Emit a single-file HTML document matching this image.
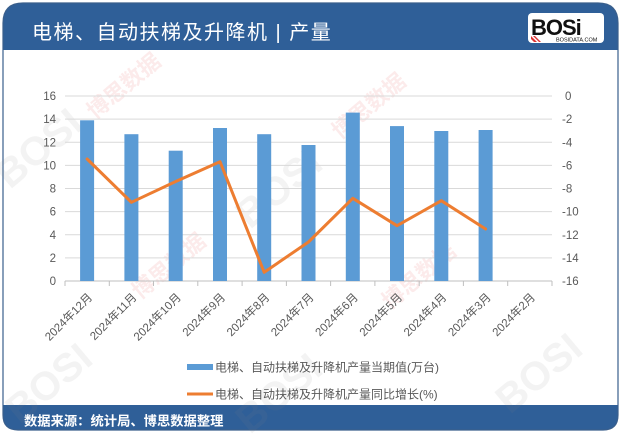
<!DOCTYPE html>
<html><head><meta charset="utf-8">
<style>
html,body{margin:0;padding:0;background:#fff;}
body{width:623px;height:434px;overflow:hidden;position:relative;font-family:"Liberation Sans","Noto Sans CJK SC",sans-serif;}
svg{position:absolute;left:0;top:0;}
</style></head>
<body>
<svg width="623" height="434" viewBox="0 0 623 434" xmlns="http://www.w3.org/2000/svg">
  <defs>
    <clipPath id="card"><path d="M3,23 Q3,3 23,3 L598,3 Q618,3 618,23 L618,415 Q618,430 603,430 L18,430 Q3,430 3,415 Z"/></clipPath>
  </defs>
  <g clip-path="url(#card)">
    <rect x="0" y="0" width="623" height="434" fill="#fff"/>
    <rect x="0" y="0" width="623" height="50" fill="#2f5f98"/>
    <rect x="0" y="405" width="623" height="30" fill="#2f5f98"/>
  </g>
  <path d="M3,23 Q3,3 23,3 L598,3 Q618,3 618,23 L618,415 Q618,430 603,430 L18,430 Q3,430 3,415 Z" fill="none" stroke="#3a5f8c" stroke-width="1.2"/>

  <!-- watermarks (faint) -->
  <g font-family="Liberation Sans, Noto Sans CJK SC, sans-serif" opacity="0.10">
    <text x="0" y="0" transform="translate(10,190) rotate(-40)" font-size="40" font-weight="bold" fill="#888">BOSI</text>
    <text x="0" y="0" transform="translate(250,230) rotate(-40)" font-size="40" font-weight="bold" fill="#888">BOSI</text>
    <text x="0" y="0" transform="translate(20,425) rotate(-40)" font-size="40" font-weight="bold" fill="#888">BOSI</text>
    <text x="0" y="0" transform="translate(250,435) rotate(-40)" font-size="40" font-weight="bold" fill="#888">BOSI</text>
    <text x="0" y="0" transform="translate(510,415) rotate(-40)" font-size="40" font-weight="bold" fill="#888">BOSI</text>
    <text x="0" y="0" transform="translate(95,120) rotate(-40)" font-size="22" font-weight="bold" fill="#d33">博思数据</text>
    <text x="0" y="0" transform="translate(340,140) rotate(-40)" font-size="22" font-weight="bold" fill="#d33">博思数据</text>
    <text x="0" y="0" transform="translate(140,300) rotate(-40)" font-size="22" font-weight="bold" fill="#d33">博思数据</text>
    <text x="0" y="0" transform="translate(390,310) rotate(-40)" font-size="22" font-weight="bold" fill="#d33">博思数据</text>
  </g>

  <!-- header title -->
  <text x="32" y="39" font-size="20" fill="#fff" letter-spacing="1.5" font-family="Liberation Sans, Noto Sans CJK SC, sans-serif">电梯、自动扶梯及升降机 | 产量</text>

  <!-- logo -->
  <rect x="528" y="13" width="76" height="30" rx="4" fill="#fff"/>
  <text x="531" y="35" font-size="22" font-weight="bold" fill="#111" font-family="Liberation Sans, sans-serif" letter-spacing="-1">BOSi</text>
  <text x="556" y="41.5" font-size="5.5" fill="#111" font-family="Liberation Sans, sans-serif">BOSIDATA.COM</text>
  <path d="M531,36 L537,42 L534,42 L531,39 Z" fill="#d33"/>
  <path d="M535,36 L541,42 L539,42 L533,36 Z" fill="#d33"/>

  <!-- gridlines -->
  <g stroke="#d9d9d9" stroke-width="1">
    <line x1="65" y1="96" x2="552" y2="96"/>
    <line x1="65" y1="119.1" x2="552" y2="119.1"/>
    <line x1="65" y1="142.3" x2="552" y2="142.3"/>
    <line x1="65" y1="165.4" x2="552" y2="165.4"/>
    <line x1="65" y1="188.5" x2="552" y2="188.5"/>
    <line x1="65" y1="211.6" x2="552" y2="211.6"/>
    <line x1="65" y1="234.8" x2="552" y2="234.8"/>
    <line x1="65" y1="257.9" x2="552" y2="257.9"/>
  </g>
  <!-- axis line + ticks -->
  <g stroke="#bfbfbf" stroke-width="1">
    <line x1="65" y1="281" x2="552" y2="281"/>
    <line x1="65" y1="281" x2="65" y2="286"/>
    <line x1="109.3" y1="281" x2="109.3" y2="286"/>
    <line x1="153.5" y1="281" x2="153.5" y2="286"/>
    <line x1="197.8" y1="281" x2="197.8" y2="286"/>
    <line x1="242.1" y1="281" x2="242.1" y2="286"/>
    <line x1="286.4" y1="281" x2="286.4" y2="286"/>
    <line x1="330.6" y1="281" x2="330.6" y2="286"/>
    <line x1="374.9" y1="281" x2="374.9" y2="286"/>
    <line x1="419.2" y1="281" x2="419.2" y2="286"/>
    <line x1="463.4" y1="281" x2="463.4" y2="286"/>
    <line x1="507.7" y1="281" x2="507.7" y2="286"/>
    <line x1="552" y1="281" x2="552" y2="286"/>
  </g>

  <!-- bars -->
  <g fill="#5b9bd5">
    <rect x="80.1" y="120.3" width="14" height="160.7"/>
    <rect x="124.4" y="134.2" width="14" height="146.8"/>
    <rect x="168.7" y="150.7" width="14" height="130.3"/>
    <rect x="213" y="128" width="14" height="153"/>
    <rect x="257.2" y="134.2" width="14" height="146.8"/>
    <rect x="301.5" y="145" width="14" height="136"/>
    <rect x="345.8" y="112.6" width="14" height="168.4"/>
    <rect x="390" y="126.1" width="14" height="154.9"/>
    <rect x="434.3" y="131" width="14" height="150"/>
    <rect x="478.6" y="130" width="14" height="151"/>
  </g>

  <!-- line -->
  <polyline fill="none" stroke="#ed7d31" stroke-width="3" stroke-linejoin="round" stroke-linecap="round"
    points="87.1,159 131.4,202.3 175.7,181.5 220,161.7 264.2,272.3 308.5,242 352.8,198.3 397,225.7 441.3,200.7 485.6,229"/>

  <!-- left axis labels -->
  <g font-size="11.5" fill="#595959" text-anchor="end" font-family="Liberation Sans, sans-serif">
    <text x="56" y="100">16</text>
    <text x="56" y="123.1">14</text>
    <text x="56" y="146.3">12</text>
    <text x="56" y="169.4">10</text>
    <text x="56" y="192.5">8</text>
    <text x="56" y="215.6">6</text>
    <text x="56" y="238.8">4</text>
    <text x="56" y="261.9">2</text>
    <text x="56" y="285">0</text>
  </g>
  <!-- right axis labels -->
  <g font-size="11.5" fill="#595959" font-family="Liberation Sans, sans-serif">
    <text x="565" y="100">0</text>
    <text x="562" y="123.1">-2</text>
    <text x="562" y="146.3">-4</text>
    <text x="562" y="169.4">-6</text>
    <text x="562" y="192.5">-8</text>
    <text x="562" y="215.6">-10</text>
    <text x="562" y="238.8">-12</text>
    <text x="562" y="261.9">-14</text>
    <text x="562" y="285">-16</text>
  </g>

  <!-- x labels -->
  <g font-size="11.5" fill="#595959" text-anchor="end" font-family="Liberation Sans, Noto Sans CJK SC, sans-serif">
    <text transform="translate(93,298) rotate(-45)">2024年12月</text>
    <text transform="translate(137.4,298) rotate(-45)">2024年11月</text>
    <text transform="translate(181.7,298) rotate(-45)">2024年10月</text>
    <text transform="translate(226,298) rotate(-45)">2024年9月</text>
    <text transform="translate(270.2,298) rotate(-45)">2024年8月</text>
    <text transform="translate(314.5,298) rotate(-45)">2024年7月</text>
    <text transform="translate(358.8,298) rotate(-45)">2024年6月</text>
    <text transform="translate(403,298) rotate(-45)">2024年5月</text>
    <text transform="translate(447.3,298) rotate(-45)">2024年4月</text>
    <text transform="translate(491.6,298) rotate(-45)">2024年3月</text>
    <text transform="translate(535.9,298) rotate(-45)">2024年2月</text>
  </g>

  <!-- legend -->
  <rect x="187" y="364" width="26" height="6" fill="#5b9bd5"/>
  <text x="215" y="371.5" font-size="12" fill="#595959" font-family="Liberation Sans, Noto Sans CJK SC, sans-serif">电梯、自动扶梯及升降机产量当期值(万台)</text>
  <line x1="187" y1="394" x2="213" y2="394" stroke="#ed7d31" stroke-width="3"/>
  <text x="215" y="398.5" font-size="12" fill="#595959" font-family="Liberation Sans, Noto Sans CJK SC, sans-serif">电梯、自动扶梯及升降机产量同比增长(%)</text>

  <!-- footer -->
  <text x="24" y="425.5" font-size="13.3" font-weight="bold" fill="#fff" font-family="Liberation Sans, Noto Sans CJK SC, sans-serif">数据来源：统计局、博思数据整理</text>
</svg>
</body></html>
